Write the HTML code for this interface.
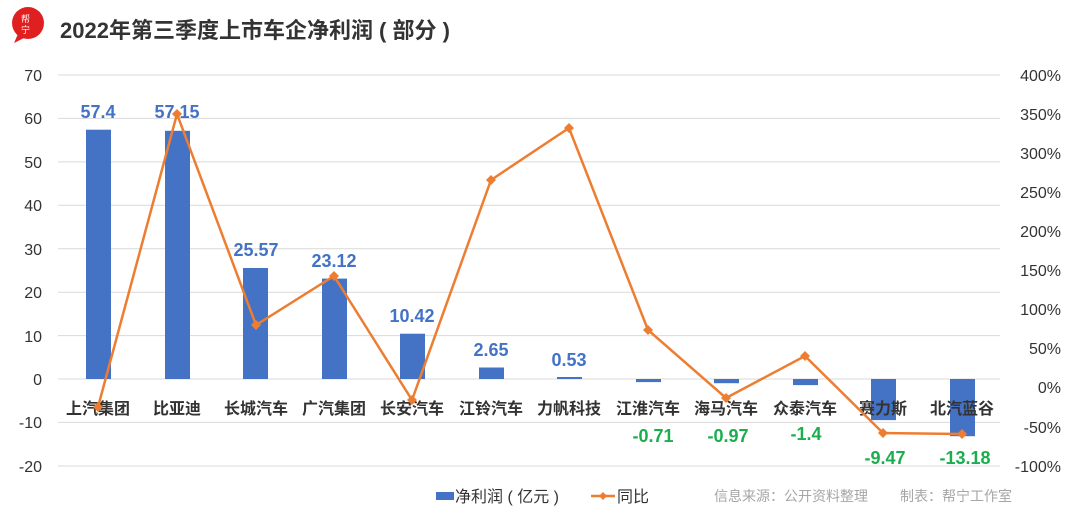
<!DOCTYPE html>
<html><head><meta charset="utf-8"><style>
body{margin:0;background:#fff;}
svg{display:block;font-family:"Liberation Sans","Noto Sans CJK SC",sans-serif;}
</style></head><body>
<svg width="1080" height="513" viewBox="0 0 1080 513">
<circle cx="28" cy="23" r="16" fill="#e02020"/>
<path d="M18 34 L14 43 L26 37 Z" fill="#e02020"/>
<text x="21" y="22" font-size="9" fill="#fff" font-family="Noto Sans CJK SC">帮</text>
<text x="21" y="33" font-size="9" fill="#fff" font-family="Noto Sans CJK SC">宁</text>
<text x="60" y="38" font-size="22" font-weight="bold" fill="#333">2022年第三季度上市车企净利润 ( 部分 )</text>
<g stroke="#d9d9d9" stroke-width="1">
<line x1="58" x2="1000" y1="75" y2="75"/><line x1="58" x2="1000" y1="118.4" y2="118.4"/>
<line x1="58" x2="1000" y1="161.9" y2="161.9"/><line x1="58" x2="1000" y1="205.3" y2="205.3"/>
<line x1="58" x2="1000" y1="248.7" y2="248.7"/><line x1="58" x2="1000" y1="292.2" y2="292.2"/>
<line x1="58" x2="1000" y1="335.6" y2="335.6"/><line x1="58" x2="1000" y1="379" y2="379"/>
<line x1="58" x2="1000" y1="422.4" y2="422.4"/><line x1="58" x2="1000" y1="466" y2="466"/>
</g>
<g font-size="16" fill="#333" text-anchor="end">
<text x="42" y="81">70</text><text x="42" y="124">60</text><text x="42" y="168">50</text>
<text x="42" y="211">40</text><text x="42" y="255">30</text><text x="42" y="298">20</text>
<text x="42" y="342">10</text><text x="42" y="385">0</text><text x="42" y="428">-10</text>
<text x="42" y="472">-20</text>
</g>
<g font-size="16" fill="#333" text-anchor="end">
<text x="1061" y="81">400%</text><text x="1061" y="120">350%</text><text x="1061" y="159">300%</text>
<text x="1061" y="198">250%</text><text x="1061" y="237">200%</text><text x="1061" y="276">150%</text>
<text x="1061" y="315">100%</text><text x="1061" y="354">50%</text><text x="1061" y="393">0%</text>
<text x="1061" y="433">-50%</text><text x="1061" y="472">-100%</text>
</g>
<g fill="#4472c4">
<rect x="86" y="129.7" width="25" height="249.3"/>
<rect x="165" y="130.8" width="25" height="248.2"/>
<rect x="243" y="268" width="25" height="111"/>
<rect x="322" y="278.6" width="25" height="100.4"/>
<rect x="400" y="333.7" width="25" height="45.3"/>
<rect x="479" y="367.5" width="25" height="11.5"/>
<rect x="557" y="377" width="25" height="2"/>
<rect x="636" y="379" width="25" height="3.1"/>
<rect x="714" y="379" width="25" height="4.2"/>
<rect x="793" y="379" width="25" height="6.1"/>
<rect x="871" y="379" width="25" height="41.1"/>
<rect x="950" y="379" width="25" height="57.2"/>
</g>
<g font-size="16" font-weight="bold" fill="#333" text-anchor="middle">
<text x="98" y="414">上汽集团</text><text x="177" y="414">比亚迪</text><text x="256" y="414">长城汽车</text>
<text x="334" y="414">广汽集团</text><text x="412" y="414">长安汽车</text><text x="491" y="414">江铃汽车</text>
<text x="569" y="414">力帆科技</text><text x="648" y="414">江淮汽车</text><text x="726" y="414">海马汽车</text>
<text x="805" y="414">众泰汽车</text><text x="883" y="414">赛力斯</text><text x="962" y="414">北汽蓝谷</text>
</g>
<g font-size="18" font-weight="bold" fill="#4472c4" text-anchor="middle">
<text x="98" y="118">57.4</text><text x="177" y="118">57.15</text><text x="256" y="256">25.57</text>
<text x="334" y="267">23.12</text><text x="412" y="322">10.42</text><text x="491" y="356">2.65</text>
<text x="569" y="366">0.53</text>
</g>
<g font-size="18" font-weight="bold" fill="#1aae4e" text-anchor="middle">
<text x="653" y="442">-0.71</text><text x="728" y="442">-0.97</text><text x="806" y="440">-1.4</text>
<text x="885" y="464">-9.47</text><text x="965" y="464">-13.18</text>
</g>
<polyline fill="none" stroke="#ed7d31" stroke-width="2.5" points="98,407 177,114 256,325 334,276 412,400 491,180 569,128 648,330 726,398 805,356 883,433 962,434"/>
<g fill="#ed7d31">
<path d="M98 402l5 5-5 5-5-5z"/><path d="M177 109l5 5-5 5-5-5z"/><path d="M256 320l5 5-5 5-5-5z"/>
<path d="M334 271l5 5-5 5-5-5z"/><path d="M412 395l5 5-5 5-5-5z"/><path d="M491 175l5 5-5 5-5-5z"/>
<path d="M569 123l5 5-5 5-5-5z"/><path d="M648 325l5 5-5 5-5-5z"/><path d="M726 393l5 5-5 5-5-5z"/>
<path d="M805 351l5 5-5 5-5-5z"/><path d="M883 428l5 5-5 5-5-5z"/><path d="M962 429l5 5-5 5-5-5z"/>
</g>
<rect x="436" y="492" width="18" height="8" fill="#4472c4"/>
<text x="455" y="502" font-size="16" fill="#333">净利润 ( 亿元 )</text>
<line x1="591" x2="615" y1="496" y2="496" stroke="#ed7d31" stroke-width="2.5"/>
<path d="M603 492l4 4-4 4-4-4z" fill="#ed7d31"/>
<text x="617" y="502" font-size="16" fill="#333">同比</text>
<text x="714" y="501" font-size="14" fill="#a6a6a6">信息来源：公开资料整理</text>
<text x="900" y="501" font-size="14" fill="#a6a6a6">制表：帮宁工作室</text>
</svg>
</body></html>
